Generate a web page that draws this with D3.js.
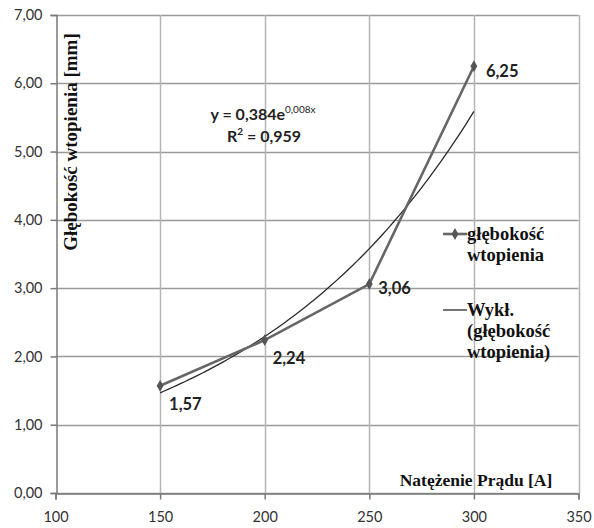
<!DOCTYPE html>
<html><head><meta charset="utf-8">
<script src="https://cdn.jsdelivr.net/npm/d3@7"></script>
<style>body{margin:0;background:#fff}svg{display:block}</style>
</head><body><svg id="c" width="594" height="528"></svg>
<script>
const current = [150, 200, 250, 300];
const depth = [1.57, 2.24, 3.06, 6.25];
const depthLabels = ["1,57", "2,24", "3,06", "6,25"];
const xTicks = [100, 150, 200, 250, 300, 350];
const yTicks = [0, 1, 2, 3, 4, 5, 6, 7];
const yTitle = "Głębokość wtopienia [mm]";
const xTitle = "Natężenie Prądu [A]";
const legendSeries = ["głębokość", "wtopienia"];
const legendTrend = ["Wykł.", "(głębokość", "wtopienia)"];
const eqText = "y = 0,384e";
const eqExp = "0,008x";
const r2Text = "= 0,959";

const svg = d3.select("#c");
const L = 55.5, R = 578.5, T = 15, B = 493;
const x = d3.scaleLinear().domain([100, 350]).range([L, R]);
const y = d3.scaleLinear().domain([0, 7]).range([B, T]);
const fmt = v => d3.format(".2f")(v).replace(".", ",");
const tickFont = "Lato, 'Open Sans', sans-serif";
const serif = "'Liberation Serif', 'DejaVu Serif', serif";

// grid
const g = svg.append("g");
g.selectAll(".hg").data(yTicks).join("line")
  .attr("x1", L).attr("x2", R).attr("y1", d => Math.round(y(d)) + .5).attr("y2", d => Math.round(y(d)) + .5)
  .attr("stroke", "#9a9a9a").attr("stroke-width", 1.5);
g.selectAll(".vg").data(xTicks.slice(1)).join("line")
  .attr("y1", T).attr("y2", B).attr("x1", d => Math.round(x(d)) + .5).attr("x2", d => Math.round(x(d)) + .5)
  .attr("stroke", "#b4b4b4").attr("stroke-width", 1.5);

// axes
const ax = svg.append("g").attr("transform", `translate(0,${Math.round(B) + .5})`)
  .call(d3.axisBottom(x).tickValues(xTicks).tickSize(6).tickPadding(12).tickFormat(d => d));
const ay = svg.append("g").attr("transform", `translate(${Math.round(L) + .5},0)`)
  .call(d3.axisLeft(y).tickValues(yTicks).tickSize(6).tickPadding(8).tickFormat(fmt));
[ax, ay].forEach(a => {
  a.select(".domain").attr("stroke", "#7a7a7a").attr("stroke-width", 1.5);
  a.selectAll(".tick line").attr("stroke", "#7a7a7a").attr("stroke-width", 1.5);
  a.selectAll("text").attr("font-family", tickFont).attr("font-size", 14.5).attr("fill", "#333");
});

// trend line: least-squares exponential fit of the data
const lnY = depth.map(Math.log);
const mx = d3.mean(current), my = d3.mean(lnY);
const b = d3.sum(current, (v, i) => (v - mx) * (lnY[i] - my)) / d3.sum(current, v => (v - mx) ** 2);
const a = Math.exp(my - b * mx);
const tx = d3.range(150, 300.01, 2);
svg.append("path").datum(tx)
  .attr("d", d3.line().x(d => x(d)).y(d => y(a * Math.exp(b * d))))
  .attr("fill", "none").attr("stroke", "#2a2a2a").attr("stroke-width", 1.3);

// series
svg.append("path").datum(current)
  .attr("d", d3.line().x(d => x(d)).y((d, i) => y(depth[i])))
  .attr("fill", "none").attr("stroke", "#666").attr("stroke-width", 2.6);
const diamond = d3.symbol().type(d3.symbolDiamond).size(40);
svg.selectAll(".pt").data(current).join("path")
  .attr("d", diamond).attr("transform", (d, i) => `translate(${x(d)},${y(depth[i])})`)
  .attr("fill", "#555");

// data labels
const offs = [[9, 18], [8, 18], [9, 4], [12, 5]];
svg.selectAll(".lbl").data(current).join("text")
  .attr("x", (d, i) => x(d) + offs[i][0]).attr("y", (d, i) => y(depth[i]) + offs[i][1])
  .attr("dy", "0.35em").text((d, i) => depthLabels[i])
  .attr("font-family", tickFont).attr("font-weight", "bold").attr("font-size", 16.5).attr("fill", "#222");

// equation
const eq = svg.append("text").attr("x", 263).attr("y", 120).attr("text-anchor", "middle")
  .attr("font-family", tickFont).attr("font-weight", "bold").attr("font-size", 16).attr("fill", "#222");
eq.append("tspan").text(eqText);
eq.append("tspan").text(eqExp).attr("font-size", 10).attr("dy", -7).attr("font-weight", "normal");
const r2 = svg.append("text").attr("x", 264).attr("y", 142).attr("text-anchor", "middle")
  .attr("font-family", tickFont).attr("font-weight", "bold").attr("font-size", 16).attr("fill", "#222");
r2.append("tspan").text("R");
r2.append("tspan").text("2").attr("font-size", 10).attr("dy", -7);
r2.append("tspan").text(" " + r2Text).attr("dy", 7);

// titles
svg.append("text").attr("transform", `translate(77,142) rotate(-90)`).attr("text-anchor", "middle")
  .attr("font-family", serif).attr("font-weight", "bold").attr("font-size", 19).attr("fill", "#111").text(yTitle);
svg.append("text").attr("x", 476).attr("y", 486).attr("text-anchor", "middle")
  .attr("font-family", serif).attr("font-weight", "bold").attr("font-size", 17.5).attr("fill", "#111").text(xTitle);

// legend
const lg = svg.append("g").attr("font-family", serif).attr("font-weight", "bold").attr("font-size", 18.5).attr("fill", "#111");
lg.append("line").attr("x1", 443).attr("x2", 467).attr("y1", 234).attr("y2", 234).attr("stroke", "#666").attr("stroke-width", 2.6);
lg.append("path").attr("d", diamond).attr("transform", "translate(455,234)").attr("fill", "#555");
legendSeries.forEach((t, i) => lg.append("text").attr("x", 467).attr("y", 240 + i * 21).text(t));
lg.append("line").attr("x1", 443).attr("x2", 467).attr("y1", 310).attr("y2", 310).attr("stroke", "#2a2a2a").attr("stroke-width", 1.3);
legendTrend.forEach((t, i) => lg.append("text").attr("x", 467).attr("y", 316 + i * 21).text(t));
</script></body></html>
